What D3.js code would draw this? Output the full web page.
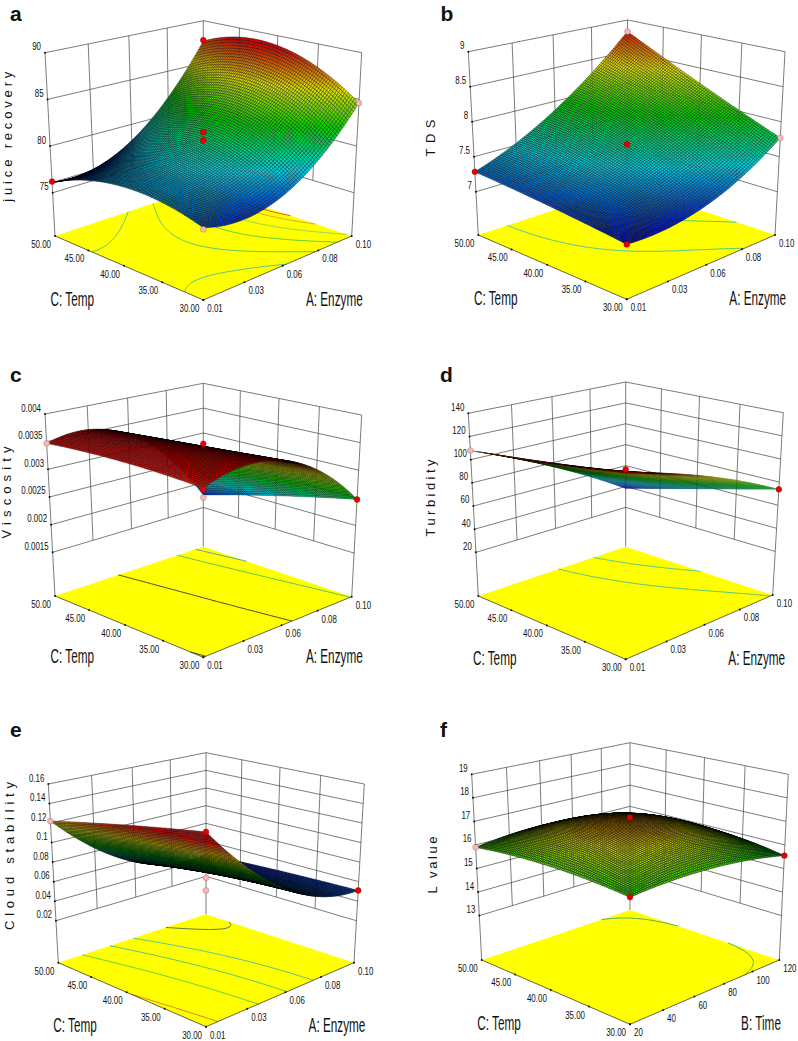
<!DOCTYPE html>
<html lang="en">
<head>
<meta charset="UTF-8">
<title>Response surfaces</title>
<script src="https://cdnjs.cloudflare.com/ajax/libs/d3/7.9.0/d3.min.js"></script>
<style>
    html, body { margin: 0; background: #fff; }
    svg { display: block; }
    text { font-family: "Liberation Sans", Arial, sans-serif; fill: #111; }
    .wall { stroke: #444; stroke-width: 0.7; fill: none; }
    .edge { stroke: #222; stroke-width: 0.7; fill: none; }
    .contour { fill: none; stroke-width: 0.9; }
    .cell { stroke: rgba(0,0,0,0.75); }
</style>
</head>
<body>
<script>
// factor ticks
const enzymeTicks = [0.01, 0.0325, 0.055, 0.0775, 0.1];
const enzymeLabels = ["0.01", "0.03", "0.06", "0.08", "0.10"];
const tempTicks = [30, 35, 40, 45, 50];
const tempLabels = ["30.00", "35.00", "40.00", "45.00", "50.00"];
const timeTicks = [20, 40, 60, 80, 100, 120];
const timeLabels = ["20", "40", "60", "80", "100", "120"];

// response at low / mid / high temp (rows) and low / mid / high first factor (columns)
const juiceSurface = [[77.25, 77.6, 84.6], [78.4, 81, 88.9], [76.1, 78.2, 87.6]];
const juiceTicks = [75, 80, 85, 90];
const juiceExtraLine = [76.1];
const juiceLevels = [77.8, 80, 82.5, 85, 87.2, 88.4];
const juiceRed = [[0.01, 50, 76.2], [0.1, 50, 87.7], [0.055, 40, 81.5], [0.055, 40, 80.6]];
const juicePink = [[0.1, 30, 84.6], [0.01, 30, 77.1]];

const tdsSurface = [[7.08, 7.2, 7.77], [7.2, 7.68, 8.27], [7.285, 7.87, 8.82]];
const tdsTicks = [7, 7.5, 8, 8.5, 9];
const tdsLevels = [7.45, 8, 8.5];
const tdsRed = [[0.01, 50, 7.285], [0.01, 30, 7.08], [0.055, 40, 7.68]];
const tdsPink = [[0.1, 30, 7.77], [0.1, 50, 8.82]];

const viscSurface = [[0.00342, 0.00352, 0.00247], [0.0035, 0.00342, 0.00214], [0.00347, 0.0033, 0.00175]];
const viscTicks = [0.0015, 0.002, 0.0025, 0.003, 0.0035, 0.004];
const viscLevels = [0.002, 0.0025, 0.00344];
const viscRed = [[0.055, 40, 0.00347], [0.01, 30, 0.0034], [0.1, 30, 0.00247]];
const viscPink = [[0.01, 50, 0.00347], [0.1, 50, 0.0017]];

const turbSurface = [[125, 103.6, 73.7], [116, 86, 55.6], [107.8, 76, 38]];
const turbTicks = [20, 40, 60, 80, 100, 120, 140];
const turbLevels = [57, 75];
const turbRed = [[0.01, 30, 128], [0.1, 30, 73.7]];
const turbPink = [[0.01, 50, 107.8]];

const cloudSurface = [[0.154, 0.076, 0.051], [0.139, 0.07, 0.049], [0.122, 0.058, 0.045]];
const cloudTicks = [0.02, 0.04, 0.06, 0.08, 0.1, 0.12, 0.14, 0.16];
const cloudLevels = [0.0466, 0.06, 0.075, 0.098, 0.14];
const cloudRed = [[0.01, 30, 0.154], [0.1, 30, 0.051]];
const cloudPink = [[0.01, 50, 0.122], [0.055, 40, 0.064], [0.055, 40, 0.051]];

const lvalueSurface = [[15.9, 16, 15.55], [16.1, 17, 15.89], [15.9, 16.1, 15.5]];
const lvalueTicks = [13, 14, 15, 16, 17, 18, 19];
const lvalueLevels = [15.85];
const lvalueRed = [[20, 30, 15.91], [120, 30, 15.55], [70, 40, 17.17]];
const lvaluePink = [[20, 50, 15.9]];

// page layout, one entry per plot: floor corners, top corners (zoomed reference / 3)
const panels = [
    { letter: "a", lx: 10, ly: 21, title: "juice recovery", tx: 12, ty: 136.7, tlen: 130,
      F: [203.3, 300], R: [351.7, 236], B: [203.3, 186.7], L: [55, 236],
      TF: [203.3, 94], TR: [361.7, 52.7], TB: [203.3, 20.7], TL: [45, 52.7], low: 0.236,
      values: juiceSurface, zTicks: juiceTicks, extra: juiceExtraLine, levels: juiceLevels,
      levelColors: ["#3fbf9f", "#3fc07a", "#4ac94a", "#8ed24a", "#d8a030", "#d84a20"],
      red: juiceRed, pink: juicePink, colorDomain: [76, 88.7], mesh: 0.45 },
    { letter: "b", lx: 440.5, ly: 21, title: "TDS", tx: 435, ty: 138, tlen: 37,
      F: [626.7, 299.3], R: [775, 235], B: [627, 186], L: [478.3, 235],
      TF: [627, 93.3], TR: [785, 51.7], TB: [627.5, 20], TL: [468.3, 51.7], low: 0.236,
      values: tdsSurface, zTicks: tdsTicks, extra: [], levels: tdsLevels,
      levelColors: ["#3fc0a0", "#3fc07a", "#8ed24a"],
      red: tdsRed, pink: tdsPink, colorDomain: [7.05, 8.85], mesh: 0.45 },
    { letter: "c", lx: 10, ly: 382, title: "Viscosity", tx: 11, ty: 492.5, tlen: 92,
      F: [203.3, 657.3], R: [351.7, 596.7], B: [203.3, 546.7], L: [55, 596],
      TF: [203.3, 452], TR: [361.7, 415], TB: [203.3, 383.3], TL: [45, 414], low: 0.24,
      values: viscSurface, zTicks: viscTicks, extra: [], levels: viscLevels,
      levelColors: ["#3fa0a0", "#3fc060", "#333333"],
      red: viscRed, pink: viscPink, colorDomain: [0.0017, 0.0035], mesh: 0.4 },
    { letter: "d", lx: 440, ly: 382, title: "Turbidity", tx: 435, ty: 498, tlen: 77,
      F: [625.7, 659.3], R: [772.7, 595], B: [625.7, 546.7], L: [478.3, 596],
      TF: [625.7, 453.7], TR: [783.3, 412.7], TB: [625.7, 382], TL: [468.3, 413.3], low: 0.239,
      values: turbSurface, zTicks: turbTicks, extra: [], levels: turbLevels,
      levelColors: ["#3fc0a0", "#3fc07a"],
      red: turbRed, pink: turbPink, colorDomain: [38, 118], mesh: 0.1 },
    { letter: "e", lx: 10, ly: 737, title: "Cloud stability", tx: 14, ty: 856, tlen: 148,
      F: [206, 1026.7], R: [354, 962.7], B: [206, 914.3], L: [58.3, 962.7],
      TF: [206, 825.3], TR: [364.3, 784], TB: [206, 752.7], TL: [48.3, 784], low: 0.235,
      values: cloudSurface, zTicks: cloudTicks, extra: [], levels: cloudLevels,
      levelColors: ["#446655", "#3fc0a0", "#3fc07a", "#4ac94a", "#e07020"],
      red: cloudRed, pink: cloudPink, colorDomain: [0.044, 0.14], mesh: 0.45 },
    { letter: "f", lx: 440, ly: 737, title: "L value", tx: 437, ty: 865, tlen: 57,
      F: [630, 1024.3], R: [779.3, 960], B: [630, 910], L: [481.7, 960],
      TF: [630, 815], TR: [788.3, 774.3], TB: [630, 742.7], TL: [471.7, 774.3], low: 0.239,
      values: lvalueSurface, zTicks: lvalueTicks, extra: [], levels: lvalueLevels,
      levelColors: ["#3f9f7a"],
      red: lvalueRed, pink: lvaluePink, colorDomain: [13.9, 17.6], mesh: 0.55 }
];

const width = 798, height = 1041, meshCells = 80;

const svg = d3.select("body").append("svg").attr("width", width).attr("height", height);

const rainbow = d3.scaleLinear()
    .domain([0, 0.25, 0.5, 0.75, 1])
    .range(["#0000c8", "#00d0e0", "#00d000", "#e0e000", "#e00000"])
    .clamp(true);

// unit square -> quadrilateral, so the floor and the lid keep their perspective
function quadMap(p00, p10, p11, p01) {
    const dx1 = p10[0] - p11[0], dx2 = p01[0] - p11[0], sx = p00[0] - p10[0] + p11[0] - p01[0];
    const dy1 = p10[1] - p11[1], dy2 = p01[1] - p11[1], sy = p00[1] - p10[1] + p11[1] - p01[1];
    const det = dx1 * dy2 - dx2 * dy1;
    const g = (sx * dy2 - dx2 * sy) / det, h = (dx1 * sy - sx * dy1) / det;
    const a = p10[0] - p00[0] + g * p10[0], b = p01[0] - p00[0] + h * p01[0];
    const d = p10[1] - p00[1] + g * p10[1], e = p01[1] - p00[1] + h * p01[1];
    return (u, v) => {
        const w = g * u + h * v + 1;
        return [(a * u + b * v + p00[0]) / w, (d * u + e * v + p00[1]) / w];
    };
}

function lagrange(t, n) {
    const nodes = d3.range(n).map(i => i / (n - 1));
    return nodes.map((ni, i) => nodes.reduce((acc, nj, j) => j === i ? acc : acc * (t - nj) / (ni - nj), 1));
}

// smooth sheet through the values that were read
function sheet(table, u, v) {
    const wu = lagrange(u, table[0].length), wv = lagrange(v, table.length);
    return d3.sum(table, (row, r) => wv[r] * d3.sum(row, (val, c) => wu[c] * val));
}

function drawPanel(p) {
    const g = svg.append("g");
    const floor = quadMap(p.F, p.R, p.B, p.L);
    const lid = quadMap(p.TF, p.TR, p.TB, p.TL);
    const isTime = p.letter === "f";

    const xTicks = isTime ? timeTicks : enzymeTicks;
    const xLabels = isTime ? timeLabels : enzymeLabels;
    const uScale = d3.scaleLinear().domain(d3.extent(xTicks)).range([0, 1]);
    const vScale = d3.scaleLinear().domain(d3.extent(tempTicks)).range([0, 1]);
    const zScale = d3.scaleLinear().domain(d3.extent(p.zTicks)).range([p.low, 1]);

    const project = (u, v, z) => {
        const a = floor(u, v), b = lid(u, v), w = zScale(z);
        return [a[0] + (b[0] - a[0]) * w, a[1] + (b[1] - a[1]) * w];
    };
    const zLow = p.zTicks[0], zTop = p.zTicks[p.zTicks.length - 1];
    const line = d3.line();

    // back walls; left wall carries the first factor's ticks, right wall the temperature's
    const walls = g.append("g").attr("class", "walls");
    const wall = pts => walls.append("path").attr("class", "wall").attr("d", line(pts));
    p.zTicks.forEach(z => {
        wall([project(0, 1, z), project(1, 1, z), project(1, 0, z)]);
    });
    p.extra.forEach(z => wall([project(0, 1, z), project(1, 1, z)]));
    xTicks.slice(1, -1).forEach(t => wall([project(uScale(t), 1, zLow), project(uScale(t), 1, zTop)]));
    tempTicks.slice(1, -1).forEach(t => wall([project(1, vScale(t), zLow), project(1, vScale(t), zTop)]));
    wall([p.L, p.TL]);
    wall([p.R, p.TR]);
    wall([p.B, p.TB]);

    // floor and its contours
    g.append("path")
        .attr("d", line([p.F, p.R, p.B, p.L]) + "Z")
        .attr("fill", "#ffff00");

    const n = 81;
    const grid = [];
    d3.range(n).forEach(j => d3.range(n).forEach(i => grid.push(sheet(p.values, i / (n - 1), j / (n - 1)))));
    const rings = d3.contours().size([n, n]).thresholds(p.levels)(grid);
    rings.forEach((mp, k) => {
        const clampUnit = x => Math.max(0, Math.min(1, (x - 0.5) / (n - 1)));
        let d = "";
        mp.coordinates.forEach(poly => poly.forEach(ring => {
            let seg = [];
            const flush = () => { if (seg.length > 1) d += line(seg); seg = []; };
            ring.forEach((pt, idx) => {
                const u = clampUnit(pt[0]), v = clampUnit(pt[1]);
                const edge = u === 0 || u === 1 || v === 0 || v === 1;
                if (idx > 0) {
                    const prev = ring[idx - 1];
                    const pu = clampUnit(prev[0]), pv = clampUnit(prev[1]);
                    const prevEdge = pu === 0 || pu === 1 || pv === 0 || pv === 1;
                    if (edge && prevEdge) flush();
                }
                seg.push(floor(u, v));
            });
            flush();
        }));
        g.append("path").attr("class", "contour").attr("stroke", p.levelColors[k]).attr("d", d);
    });

    // front edges and tick dots
    g.append("path").attr("class", "edge").attr("d", line([p.L, p.F, p.R]));
    const dot = (pt) => g.append("circle").attr("cx", pt[0]).attr("cy", pt[1]).attr("r", 1).attr("fill", "#111");
    const label = (txt, x, y, anchor, size, sx) => g.append("text")
        .attr("transform", `translate(${x},${y}) scale(${sx},1)`)
        .attr("text-anchor", anchor)
        .attr("font-size", size)
        .text(txt);

    tempTicks.forEach((t, i) => {
        const pt = floor(0, vScale(t));
        dot(pt);
        label(tempLabels[i], pt[0] - 4, pt[1] + 12, "end", 11, 0.72);
    });
    xTicks.forEach((t, i) => {
        const pt = floor(uScale(t), 0);
        dot(pt);
        label(xLabels[i], pt[0] + 4, pt[1] + 12, "start", 11, 0.72);
    });
    p.zTicks.forEach(z => {
        const pt = project(0, 1, z);
        dot(pt);
        label(String(z), pt[0] - 4, pt[1] - 2.5, "end", 11, 0.72);
    });

    // surface, painted from the back corner forward
    const cells = g.append("g").attr("class", "surface").attr("stroke-width", p.mesh);
    const [c0, c1] = p.colorDomain;
    const samples = d3.range(meshCells + 1).map(j => d3.range(meshCells + 1).map(i => {
        const u = i / meshCells, v = j / meshCells, z = sheet(p.values, u, v);
        return { z, pt: project(u, v, z) };
    }));
    for (let j = meshCells - 1; j >= 0; j--) {
        for (let i = meshCells - 1; i >= 0; i--) {
            const q = [samples[j][i], samples[j][i + 1], samples[j + 1][i + 1], samples[j + 1][i]];
            const t = (d3.mean(q, s => s.z) - c0) / (c1 - c0);
            cells.append("path")
                .attr("class", "cell")
                .attr("fill", rainbow(t))
                .attr("d", "M" + q.map(s => s.pt[0].toFixed(1) + "," + s.pt[1].toFixed(1)).join("L") + "Z");
        }
    }

    // design points
    const points = (rows, fill, stroke) => rows.forEach(r => {
        const pt = project(uScale(r[0]), vScale(r[1]), r[2]);
        g.append("circle").attr("cx", pt[0]).attr("cy", pt[1]).attr("r", 2.9)
            .attr("fill", fill).attr("stroke", stroke).attr("stroke-width", 0.4);
    });
    points(p.pink, "#f6b8b8", "#a06060");
    points(p.red, "#e60000", "#900000");

    // titles
    label(isTime ? "B: Time" : "A: Enzyme", p.F[0] + 131, p.F[1] + 5.5, "middle", 21, 0.56);
    label("C: Temp", p.F[0] - 131, p.F[1] + 5.5, "middle", 21, 0.56);
    g.append("text")
        .attr("transform", `translate(${p.tx},${p.ty}) rotate(-90)`)
        .attr("text-anchor", "middle")
        .attr("font-size", 13)
        .attr("textLength", p.tlen)
        .attr("lengthAdjust", "spacing")
        .text(p.title);
    g.append("text")
        .attr("x", p.lx).attr("y", p.ly)
        .attr("font-size", 21).attr("font-weight", "bold")
        .text(p.letter);
}

panels.forEach(drawPanel);
</script>
</body>
</html>
